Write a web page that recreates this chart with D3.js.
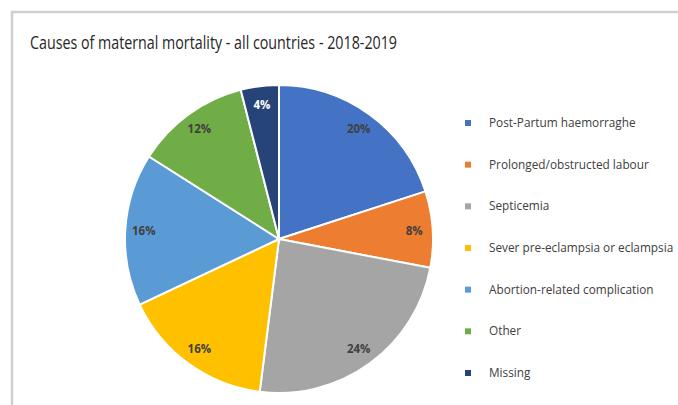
<!DOCTYPE html>
<html>
<head>
<meta charset="utf-8">
<script src="https://cdn.jsdelivr.net/npm/d3@7"></script>
<style>
  html, body { margin: 0; padding: 0; background: #fff; }
  svg { display: block; }
</style>
</head>
<body>
<svg id="chart" width="678" height="405"></svg>
<script>
const title = "Causes of maternal mortality - all countries - 2018-2019";
const categories = [
  "Post-Partum haemorraghe",
  "Prolonged/obstructed labour",
  "Septicemia",
  "Sever pre-eclampsia or eclampsia",
  "Abortion-related complication",
  "Other",
  "Missing"
];
const values = [20, 8, 24, 16, 16, 12, 4];
const colors = ["#4472C4", "#ED7D31", "#A5A5A5", "#FFC000", "#5B9BD5", "#70AD47", "#264478"];
const labelColors = ["#404040", "#404040", "#404040", "#404040", "#404040", "#404040", "#FFFFFF"];

const svg = d3.select("#chart");
const W = 678, H = 405;

svg.append("rect").attr("x", 0).attr("y", 0).attr("width", W).attr("height", H).attr("fill", "#fff");
svg.append("path")
  .attr("d", `M12,${H} L12,12 L${W},12`)
  .attr("fill", "none").attr("stroke", "#D0D0D0").attr("stroke-width", 2.5);

const t = svg.append("text")
  .attr("x", 30).attr("y", 49)
  .attr("font-family", "Liberation Sans Narrow, Open Sans, sans-serif")
  .attr("font-size", 18)
  .attr("fill", "#262626")
  .text(title);
const tw = t.node().getComputedTextLength();
if (Math.abs(tw - 367) > 4) t.attr("textLength", 367).attr("lengthAdjust", "spacingAndGlyphs");

const cx = 279, cy = 239, r = 154;
const data = categories.map((c, i) => ({ name: c, value: values[i], color: colors[i], lc: labelColors[i] }));

const pie = d3.pie().value(d => d.value).sort(null);
const arc = d3.arc().innerRadius(0).outerRadius(r);
const labelArc = d3.arc().innerRadius(r * 0.88).outerRadius(r * 0.88);

const g = svg.append("g").attr("transform", `translate(${cx},${cy})`);
const arcs = pie(data);

g.selectAll("path.slice").data(arcs).join("path")
  .attr("class", "slice")
  .attr("d", arc)
  .attr("fill", d => d.data.color)
  .attr("stroke", "#fff")
  .attr("stroke-width", 2);

g.selectAll("text.lbl").data(arcs).join("text")
  .attr("class", "lbl")
  .attr("transform", d => `translate(${labelArc.centroid(d)})`)
  .attr("text-anchor", "middle")
  .attr("dy", "0.35em")
  .attr("font-family", "Open Sans, sans-serif")
  .attr("font-weight", "bold")
  .attr("font-size", 11.5)
  .attr("fill", d => d.data.lc)
  .text(d => d.data.value + "%");

const legend = svg.append("g");
const ly = d3.scalePoint().domain(categories).range([123, 373]);
const items = legend.selectAll("g").data(data).join("g")
  .attr("transform", d => `translate(465,${ly(d.name)})`);
items.append("rect").attr("x", 0).attr("y", -3).attr("width", 6).attr("height", 6)
  .attr("fill", d => d.color);
items.append("text")
  .attr("x", 24).attr("dy", "0.35em")
  .attr("font-family", "Open Sans, sans-serif")
  .attr("font-size", 11.8)
  .attr("fill", "#404040")
  .text(d => d.name);
</script>
</body>
</html>
